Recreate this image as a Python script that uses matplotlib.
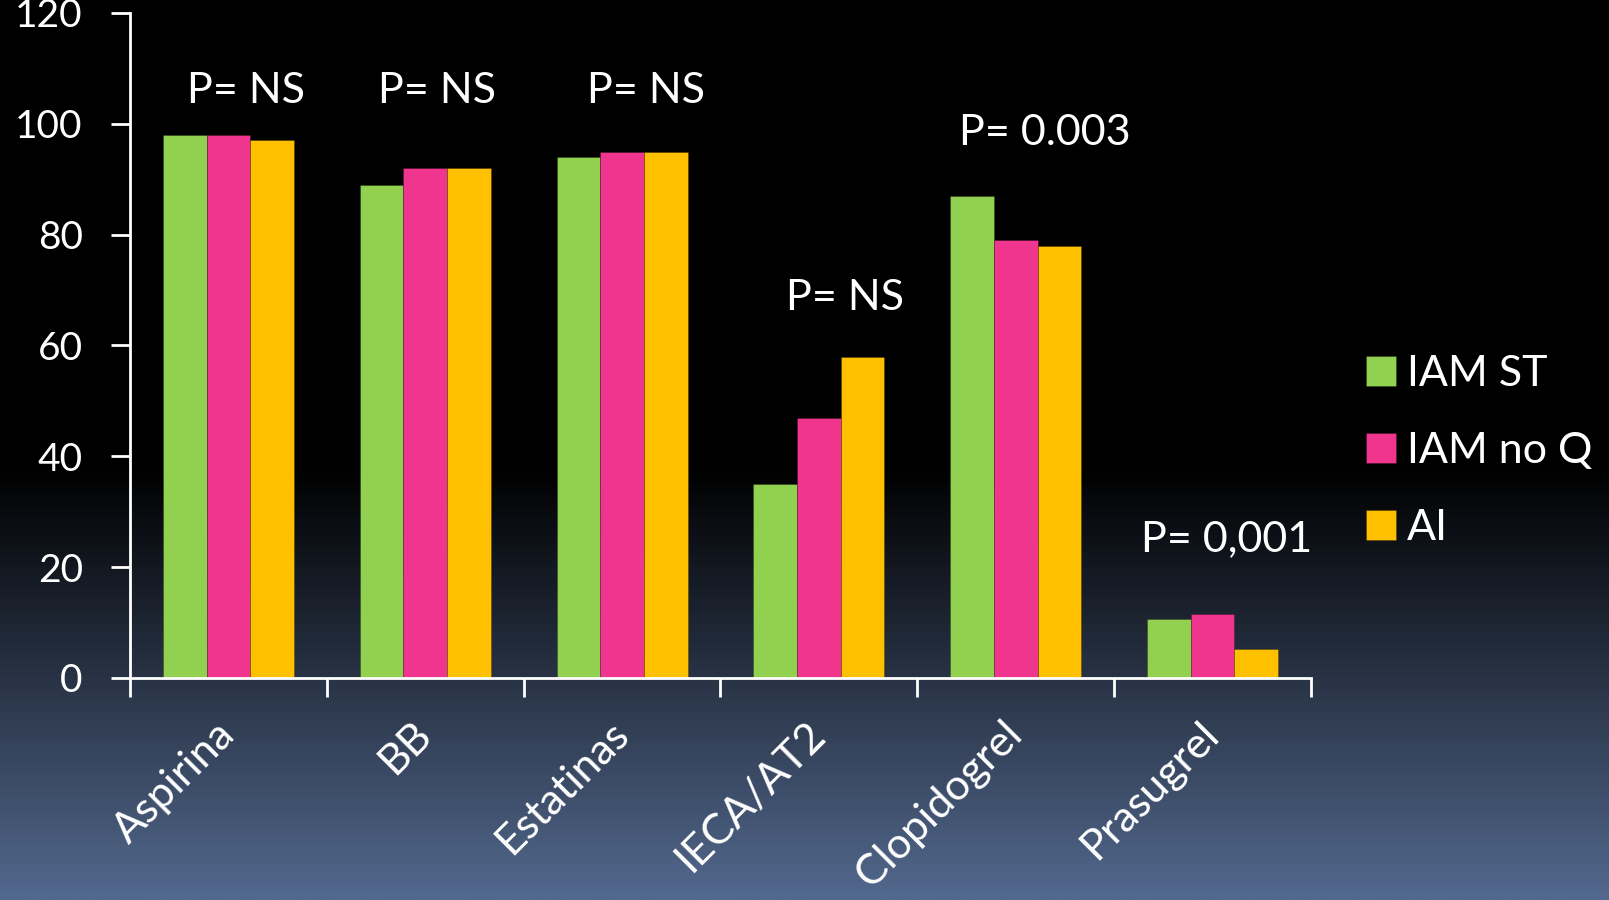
import numpy as np
import matplotlib
matplotlib.use("Agg")
import matplotlib.pyplot as plt
from matplotlib.colors import LinearSegmentedColormap

plt.rcParams['font.family'] = ['Lato', 'DejaVu Sans']

categories = ['Aspirina', 'BB', 'Estatinas', 'IECA/AT2', 'Clopidogrel', 'Prasugrel']
iam_st = [98, 89, 94, 35, 87, 10.7]
iam_noq = [98, 92, 95, 47, 79, 11.5]
ai = [97, 92, 95, 58, 78, 5.2]
series_names = ['IAM ST', 'IAM no Q', 'AI']
colors = ['#92D050', '#F0358E', '#FFC000']
p_labels = ['P= NS', 'P= NS', 'P= NS', 'P= NS', 'P= 0.003', 'P= 0,001']
p_y = [106, 106, 106, 68.5, 98.3, 25]

fig = plt.figure(figsize=(16.09, 9), dpi=100)

# background gradient: black on top, blue-grey at the bottom
bg = fig.add_axes([0, 0, 1, 1], zorder=-10)
grad = np.linspace(0, 1, 500).reshape(-1, 1)
cmap = LinearSegmentedColormap.from_list('bg', [(0, '#000000'), (0.52, '#000000'), (1, '#52688D')])
bg.imshow(grad, aspect='auto', cmap=cmap, extent=[0, 1, 1, 0])
bg.axis('off')

ax = fig.add_axes([130/1609, 1-678/900, (1311-130)/1609, (678-13)/900])
ax.patch.set_alpha(0)

x = np.arange(len(categories))
w = 0.222
for k, vals in enumerate([iam_st, iam_noq, ai]):
    ax.bar(x + (k-1)*w, vals, w, color=colors[k], label=series_names[k],
           edgecolor='#00000040', linewidth=0.6)

offs = [0.09, 0.06, 0.12, 0.13, 0.15, 0.07]
for i, t in enumerate(p_labels):
    ax.text(x[i] + offs[i], p_y[i], t, color='white', fontsize=31, ha='center', va='center')

ax.set_xlim(-0.5, 5.5)
ax.set_ylim(0, 120)
ax.set_yticks([0, 20, 40, 60, 80, 100, 120])
ax.set_xticks(np.arange(-0.5, 6, 1))
ax.set_xticklabels([])
ax.set_xticks(x, minor=True)
ax.set_xticklabels(categories, minor=True, rotation=45, ha='right', va='center',
                   rotation_mode='anchor', fontsize=31, color='white')
ax.tick_params(axis='x', which='minor', length=0, pad=36)
ax.tick_params(axis='x', which='major', length=14, width=2, color='white', direction='out')
ax.tick_params(axis='y', length=14, width=2, color='white', labelsize=28, labelcolor='white', pad=20)
for s in ['top', 'right']:
    ax.spines[s].set_visible(False)
for s in ['left', 'bottom']:
    ax.spines[s].set_color('white')
    ax.spines[s].set_linewidth(2)

leg = ax.legend(loc='center left', bbox_to_anchor=(1.032, 0.341), frameon=False, fontsize=31,
                labelcolor='white', handlelength=0.7, handleheight=0.7, handletextpad=0.25,
                labelspacing=0.9, borderaxespad=0)

fig.savefig('out.png', dpi=100)
